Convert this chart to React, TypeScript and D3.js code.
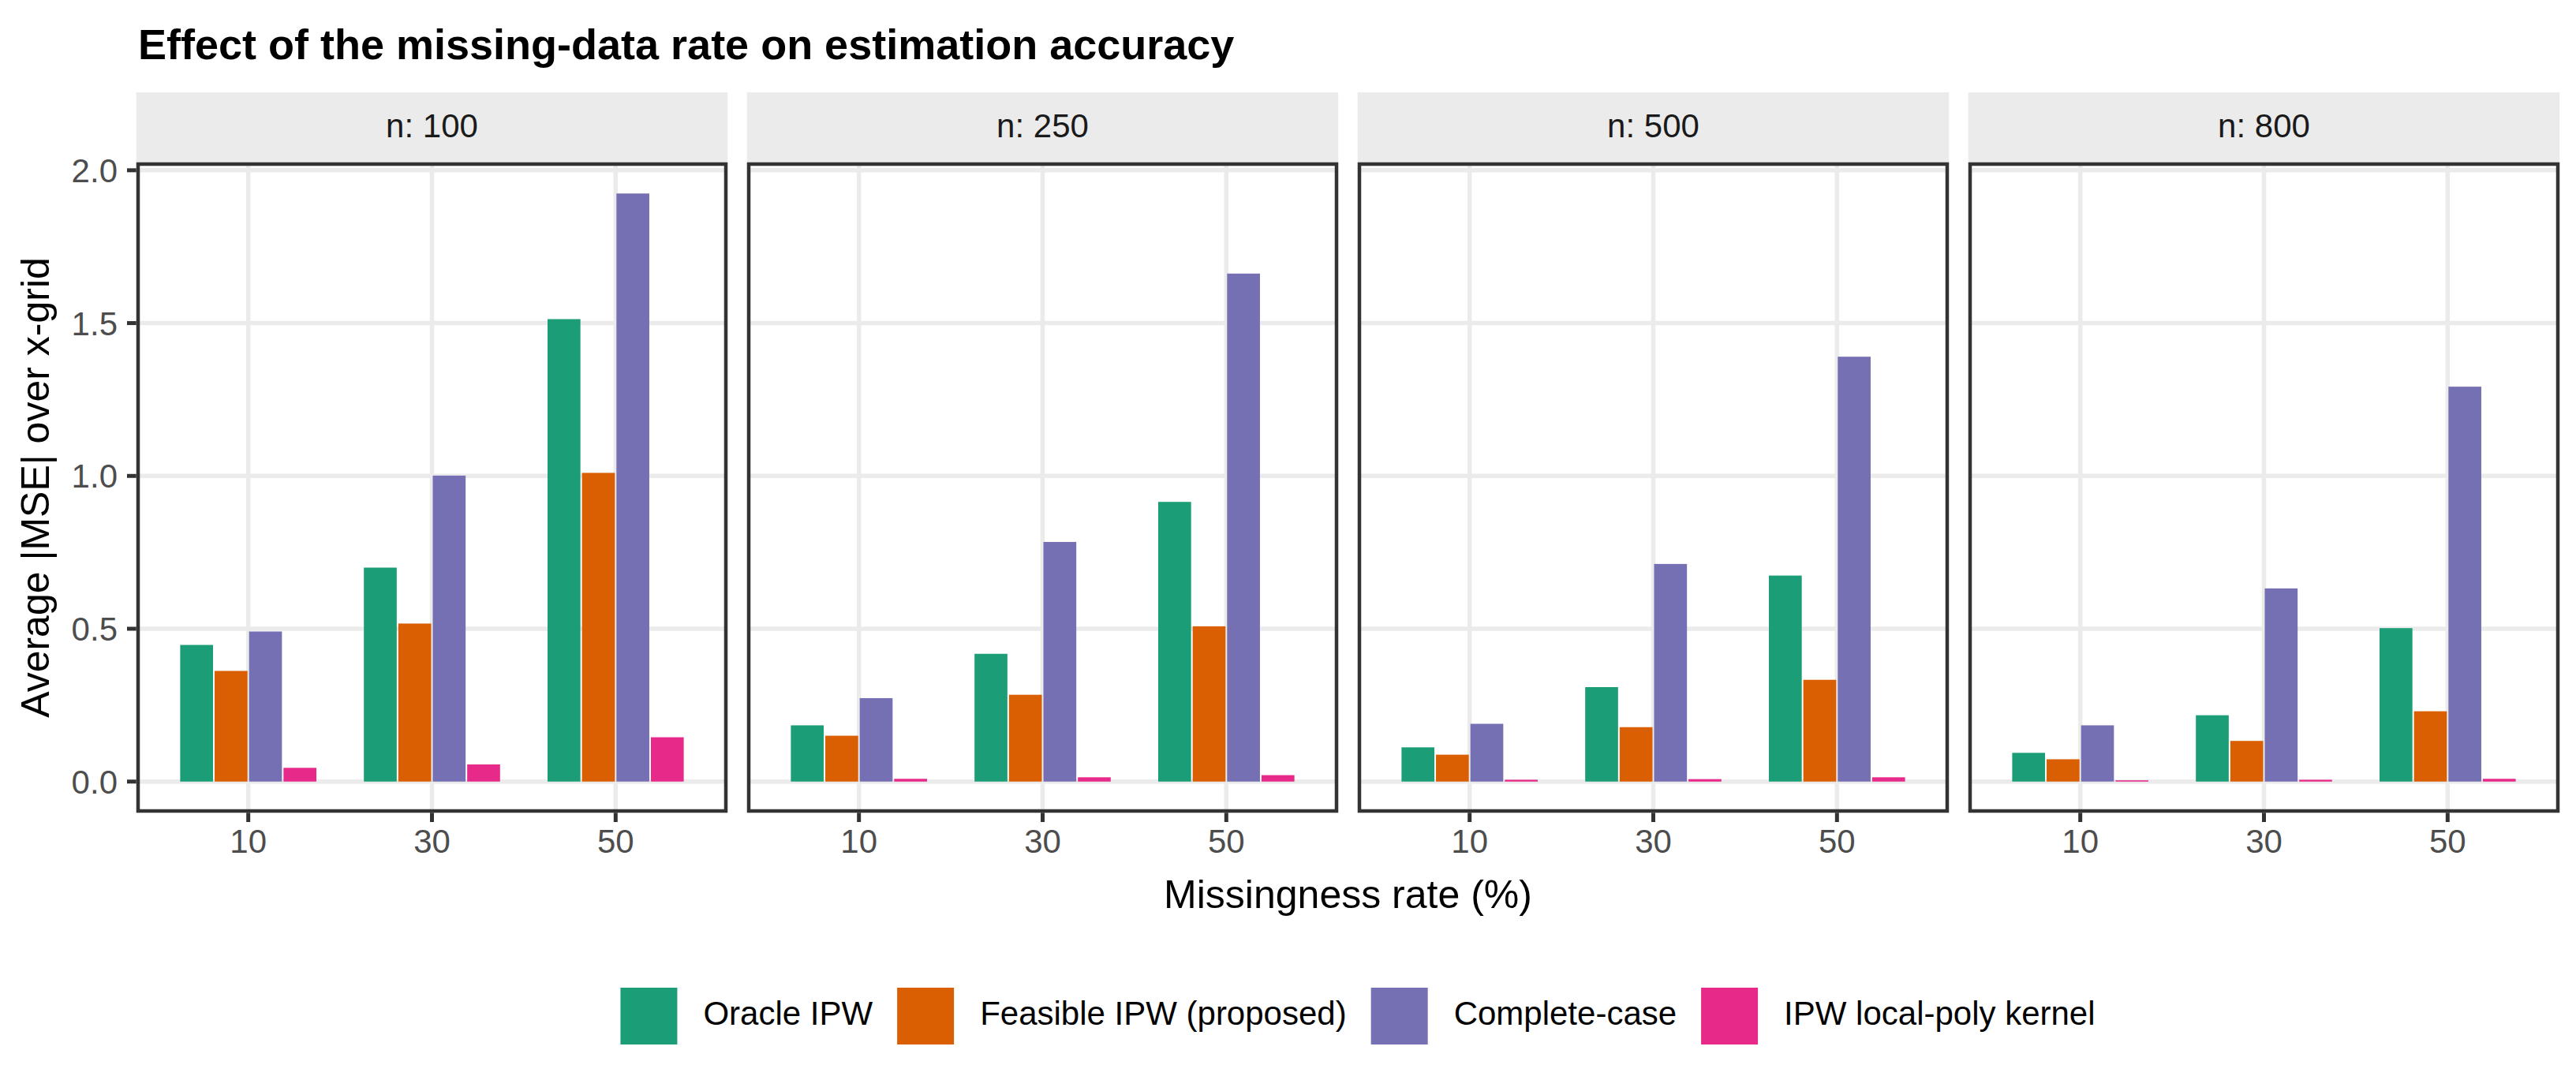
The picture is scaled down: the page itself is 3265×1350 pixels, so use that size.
import React, { useMemo } from "react";
import * as d3 from "d3";

// ---------- data ----------
const panelLabels = ["n: 100", "n: 250", "n: 500", "n: 800"];
const rates = ["10", "30", "50"];
const methods = [
  "Oracle IPW",
  "Feasible IPW (proposed)",
  "Complete-case",
  "IPW local-poly kernel",
];
const methodColors = ["#1B9E77", "#D95F02", "#7570B3", "#E7298A"];

// values ordered by panel (n = 100, 250, 500, 800), then rate (10, 30, 50)
const oracleIPW = [0.447, 0.7, 1.513, 0.184, 0.418, 0.915, 0.112, 0.309, 0.674, 0.094, 0.217, 0.502];
const feasibleIPW = [0.362, 0.517, 1.01, 0.15, 0.284, 0.508, 0.088, 0.178, 0.333, 0.073, 0.133, 0.23];
const completeCase = [0.491, 1.001, 1.924, 0.273, 0.784, 1.662, 0.189, 0.712, 1.39, 0.184, 0.632, 1.292];
const kernelIPW = [0.045, 0.056, 0.145, 0.009, 0.014, 0.021, 0.006, 0.008, 0.014, 0.004, 0.006, 0.009];

const seriesValues = [oracleIPW, feasibleIPW, completeCase, kernelIPW];

const title = "Effect of the missing-data rate on estimation accuracy";
const xTitle = "Missingness rate (%)";
const yTitle = "Average |MSE| over x-grid";

// ---------- layout ----------
const W = 3265;
const H = 1350;
const FONT = "'Liberation Sans', Arial, Helvetica, sans-serif";
const plotLeft = 175;
const plotRight = 3242;
const panelGap = 29;
const panelTop = 208;
const panelBottom = 1028;
const stripTop = 117;
const borderW = 4.5;

function measure(text: string, font: string): number {
  if (typeof document === "undefined") return text.length * 20;
  const c = document.createElement("canvas");
  const ctx = c.getContext("2d");
  if (!ctx) return text.length * 20;
  ctx.font = font;
  return ctx.measureText(text).width;
}

export default function App() {
  const nPanels = panelLabels.length;
  const panelW = (plotRight - plotLeft - panelGap * (nPanels - 1)) / nPanels;

  const maxV = d3.max(seriesValues.flat()) as number;
  const y = d3
    .scaleLinear()
    .domain([-0.05 * maxV, maxV * 1.05])
    .range([panelBottom, panelTop]);
  const yTicks = y.ticks(5);
  const fmt = d3.format(".1f");

  const dodge = d3.scaleBand<string>().domain(methods).range([-0.375, 0.375]).padding(0);

  const legendFont = `42px ${FONT}`;
  const keySize = 72;
  const keyTextGap = 33;
  const itemGap = 31;
  const legendItems = useMemo(() => {
    const widths = methods.map((m) => measure(m, legendFont));
    const total =
      widths.reduce((a, b) => a + b, 0) + methods.length * (keySize + keyTextGap) + (methods.length - 1) * itemGap;
    let x = 1721 - total / 2;
    return methods.map((m, i) => {
      const item = { label: m, color: methodColors[i], x };
      x += keySize + keyTextGap + widths[i] + itemGap;
      return item;
    });
  }, []);

  const panels = panelLabels.map((label, p) => {
    const x0 = plotLeft + p * (panelW + panelGap);
    const x = d3.scaleLinear().domain([0.4, rates.length + 0.6]).range([x0, x0 + panelW]);
    return { label, p, x0, x };
  });

  return (
    <svg
      width={W}
      height={H}
      viewBox={`0 0 ${W} ${H}`}
      style={{ position: "absolute", left: 0, top: 0, background: "#fff" }}
      fontFamily={FONT}
    >
      <rect x={0} y={0} width={W} height={H} fill="#fff" />
      {/* title */}
      <text x={plotLeft} y={75} fontSize={54} fontWeight="bold" fill="#000">
        {title}
      </text>

      {panels.map(({ label, p, x0, x }) => (
        <g key={label}>
          {/* strip */}
          <rect
            x={x0 - borderW / 2}
            y={stripTop}
            width={panelW + borderW}
            height={panelTop - stripTop}
            fill="#EBEBEB"
          />
          <text x={x0 + panelW / 2} y={174} fontSize={42} textAnchor="middle" fill="#1A1A1A">
            {label}
          </text>
          {/* panel bg */}
          <rect x={x0} y={panelTop} width={panelW} height={panelBottom - panelTop} fill="#fff" />
          {/* gridlines */}
          {yTicks.map((t) => (
            <line key={"gy" + t} x1={x0} x2={x0 + panelW} y1={y(t)} y2={y(t)} stroke="#EBEBEB" strokeWidth={5.5} />
          ))}
          {rates.map((r, i) => (
            <line
              key={"gx" + r}
              x1={x(i + 1)}
              x2={x(i + 1)}
              y1={panelTop}
              y2={panelBottom}
              stroke="#EBEBEB"
              strokeWidth={5.5}
            />
          ))}
          {/* bars */}
          {rates.map((r, i) =>
            methods.map((m, j) => {
              const v = seriesValues[j][p * rates.length + i];
              const bx0 = x(i + 1 + (dodge(m) as number)) + 1;
              const bx1 = x(i + 1 + (dodge(m) as number) + dodge.bandwidth()) - 1;
              return (
                <rect
                  key={r + m}
                  x={bx0}
                  y={y(v)}
                  width={bx1 - bx0}
                  height={y(0) - y(v)}
                  fill={methodColors[j]}
                />
              );
            })
          )}
          {/* border */}
          <rect
            x={x0}
            y={panelTop}
            width={panelW}
            height={panelBottom - panelTop}
            fill="none"
            stroke="#333333"
            strokeWidth={borderW}
          />
          {/* x ticks + labels */}
          {rates.map((r, i) => (
            <g key={"xt" + r}>
              <line
                x1={x(i + 1)}
                x2={x(i + 1)}
                y1={panelBottom + borderW / 2}
                y2={panelBottom + 14}
                stroke="#333333"
                strokeWidth={5}
              />
              <text x={x(i + 1)} y={1081} fontSize={42} textAnchor="middle" fill="#4D4D4D">
                {r}
              </text>
            </g>
          ))}
          {/* y axis only on first panel */}
          {p === 0 &&
            yTicks.map((t) => (
              <g key={"yt" + t}>
                <line
                  x1={x0 - 14}
                  x2={x0 - borderW / 2}
                  y1={y(t)}
                  y2={y(t)}
                  stroke="#333333"
                  strokeWidth={5}
                />
                <text x={149} y={y(t) + 15} fontSize={42} textAnchor="end" fill="#4D4D4D">
                  {fmt(t)}
                </text>
              </g>
            ))}
        </g>
      ))}

      {/* axis titles */}
      <text x={(plotLeft + plotRight) / 2} y={1151} fontSize={50} textAnchor="middle" fill="#000">
        {xTitle}
      </text>
      <text
        x={0}
        y={0}
        fontSize={50}
        textAnchor="middle"
        fill="#000"
        transform={`translate(61.5, ${(panelTop + panelBottom) / 2}) rotate(-90)`}
      >
        {yTitle}
      </text>

      {/* legend */}
      {legendItems.map((it) => (
        <g key={it.label}>
          <rect x={it.x} y={1252} width={keySize} height={keySize} fill={it.color} />
          <text x={it.x + keySize + keyTextGap} y={1299} fontSize={42} fill="#000">
            {it.label}
          </text>
        </g>
      ))}
    </svg>
  );
}
